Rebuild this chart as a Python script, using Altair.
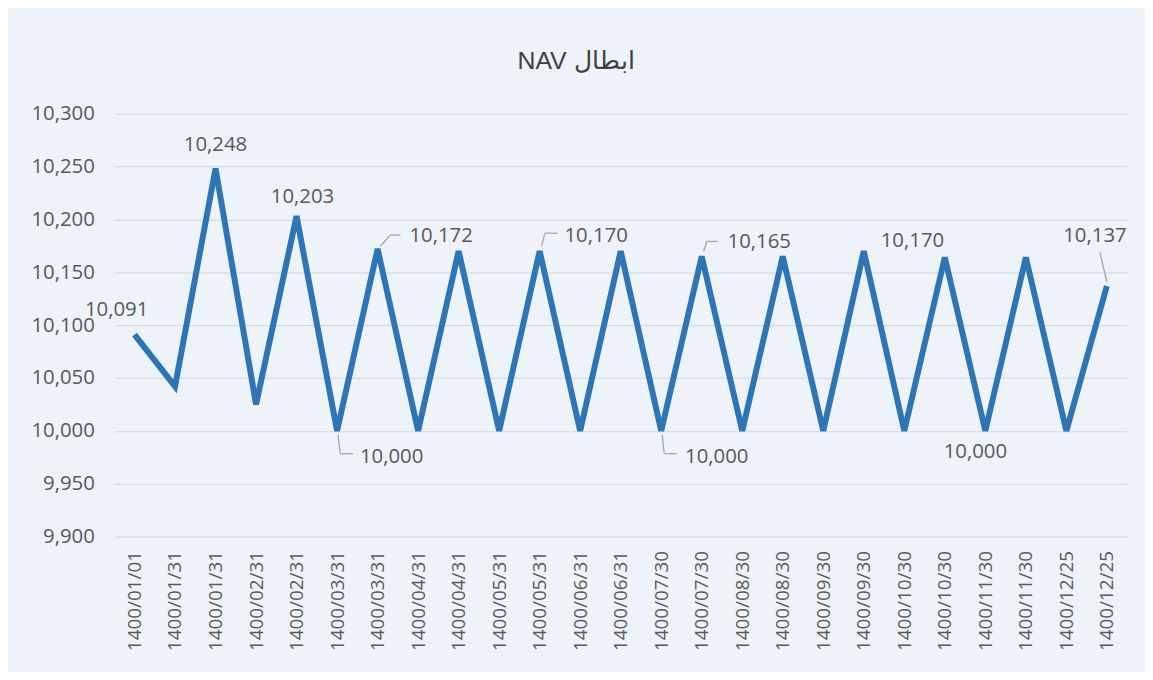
import json
import altair as alt
import pandas as pd

dates = ["1400/01/01", "1400/01/31", "1400/01/31", "1400/02/31", "1400/02/31",
         "1400/03/31", "1400/03/31", "1400/04/31", "1400/04/31", "1400/05/31",
         "1400/05/31", "1400/06/31", "1400/06/31", "1400/07/30", "1400/07/30",
         "1400/08/30", "1400/08/30", "1400/09/30", "1400/09/30", "1400/10/30",
         "1400/10/30", "1400/11/30", "1400/11/30", "1400/12/25", "1400/12/25"]
nav = [10091, 10042, 10248, 10025, 10203, 10000, 10172, 10000, 10170, 10000,
       10170, 10000, 10170, 10000, 10165, 10000, 10165, 10000, 10170, 10000,
       10164, 10000, 10164, 10000, 10137]
y_ticks = [9900, 9950, 10000, 10050, 10100, 10150, 10200, 10250, 10300]
title_text = "NAV ابطال"

FONT = "Open Sans"
GRAY = "#595959"

df = pd.DataFrame({"idx": list(range(len(nav))), "date": dates, "nav": nav})
df["text"] = df["nav"].map(lambda v: f"{v:,}")

label_expr = json.dumps(dates) + "[datum.value]"

xenc = alt.X("idx:O",
             scale=alt.Scale(type="point", padding=0.5, domain=list(range(len(nav)))),
             axis=alt.Axis(title=None, labelExpr=label_expr, labelAngle=-90,
                           labelFont=FONT, labelFontSize=19, labelColor=GRAY,
                           ticks=False, domain=False, grid=False, labelPadding=14))
yenc = alt.Y("nav:Q",
             scale=alt.Scale(domain=[9900, 10300], nice=False, zero=False),
             axis=alt.Axis(title=None, values=y_ticks, format=",.0f",
                           labelFont=FONT, labelFontSize=20.5, labelColor=GRAY,
                           ticks=False, domain=False, gridColor="#d3d6db",
                           gridWidth=1, labelPadding=20))

base = alt.Chart(df).encode(x=xenc, y=yenc)

line = base.mark_line(color="#2e75b6", strokeWidth=6, strokeJoin="miter")


def lab(i, dx, dy, align="center"):
    return base.transform_filter(alt.datum.idx == i).mark_text(
        dx=dx, dy=dy, align=align, baseline="middle", font=FONT,
        fontSize=20.5, color=GRAY).encode(text="text:N")


def leader(i, x1, y1, x2, y2):
    return base.transform_filter(alt.datum.idx == i).mark_rule(
        color="#a6a6a6", strokeWidth=1.3,
        xOffset=x1, yOffset=y1, x2Offset=x2, y2Offset=y2).encode(
        x2=alt.X2("idx"), y2=alt.Y2("nav"))


layers = [
    line,
    lab(0, -18, -25),
    lab(2, 0, -24),
    lab(4, 6, -19),
    lab(6, 32, -13, "left"), leader(6, 3, -3, 12, -13), leader(6, 12, -14, 23, -14),
    lab(10, 25, -15, "left"), leader(10, 2, -5, 5, -17), leader(10, 5, -18, 18, -18),
    lab(14, 26, -14, "left"), leader(14, 2, -5, 5, -15), leader(14, 5, -15, 16, -15),
    lab(5, 23, 26, "left"), leader(5, 1, 4, 3, 22), leader(5, 3, 23, 16, 23),
    lab(13, 24, 26, "left"), leader(13, 1, 4, 3, 22), leader(13, 3, 23, 16, 23),
    lab(18, 49, -10),
    lab(21, -10, 21),
    lab(24, -12, -50), leader(24, 0, -4, -7, -34),
]

chart = alt.layer(*layers).properties(
    width=1020, height=426,
    autosize=alt.AutoSizeParams(type="none"),
    padding={"left": 107, "top": 104, "right": 18, "bottom": 134},
    background="#eef2f9",
    title=alt.TitleParams(title_text, font="Liberation Sans", fontSize=25,
                          fontWeight="normal", color="#404040", offset=30, dx=-45),
).configure_view(stroke=None)

chart.save("out.html", embed_options={"renderer": "svg", "actions": False})
